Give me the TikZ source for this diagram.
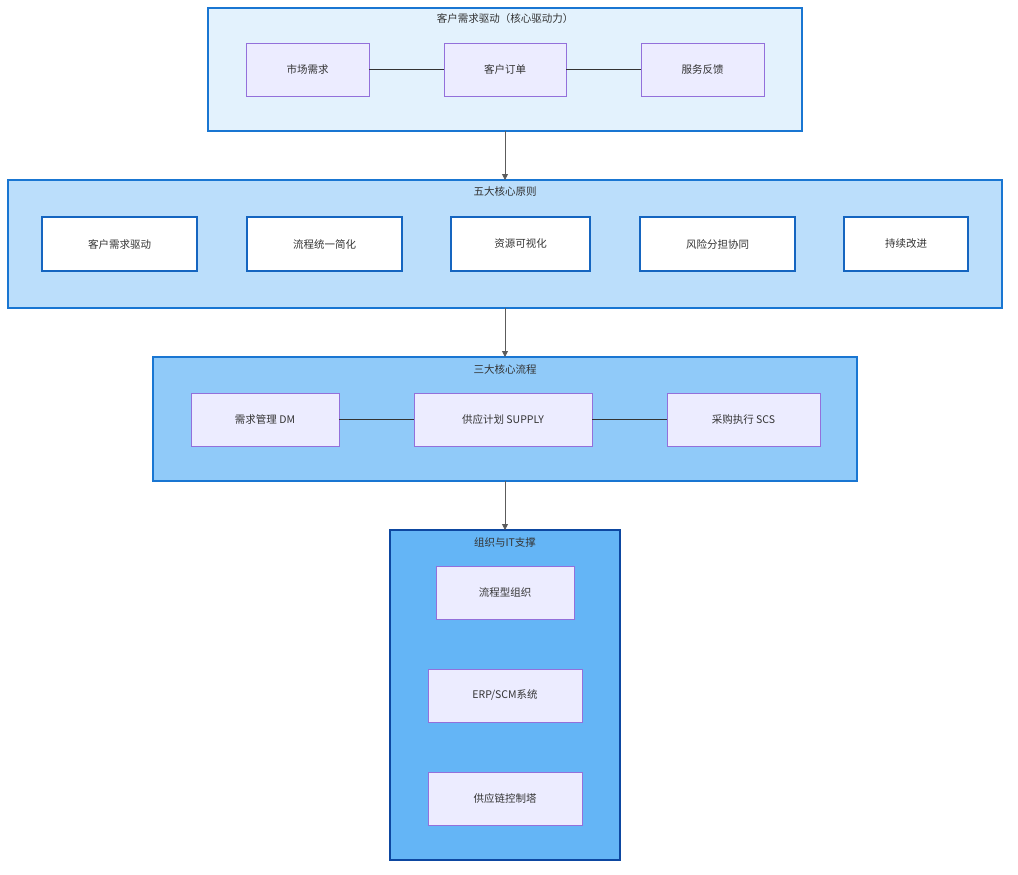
\documentclass[tikz,border=0pt]{standalone}
\usepackage{fontspec}
\setmainfont{Noto Sans CJK SC}
\usetikzlibrary{arrows.meta}
\definecolor{gfillA}{HTML}{E3F2FD}
\definecolor{gfillB}{HTML}{BBDEFB}
\definecolor{gfillC}{HTML}{90CAF9}
\definecolor{gfillD}{HTML}{64B5F6}
\definecolor{gline}{HTML}{1976D2}
\definecolor{glineD}{HTML}{0D47A1}
\definecolor{nfill}{HTML}{ECECFF}
\definecolor{nline}{HTML}{9370DB}
\definecolor{wline}{HTML}{1565C0}
\definecolor{txt}{HTML}{333333}
\newcommand\grouptextstyle{\fontsize{10.5}{12}\selectfont}
\newcommand\nodetextstyle{\fontsize{10.5}{12}\selectfont}
\tikzset{
  group/.style={draw=gline, line width=1.6pt},
  item/.style={draw=nline, fill=nfill, line width=0.7pt},
  principle/.style={draw=wline, fill=white, line width=1.4pt},
  link/.style={draw=txt, line width=0.5pt},
  flow/.style={draw=txt!80, line width=0.8pt, -{Triangle[length=6pt,width=6pt]}},
}
\begin{document}
\begin{tikzpicture}[x=1pt, y=-1pt, every node/.style={text=txt}]
  \useasboundingbox (0,0) rectangle (1018,875);
  % groups
  \draw[group, fill=gfillA] (208,8) rectangle (802,131);
  \node (gA) at (505,19) {\grouptextstyle 客户需求驱动（核心驱动力）};
  \draw[group, fill=gfillB] (8,180) rectangle (1002,308);
  \node (gB) at (505,191) {\grouptextstyle 五大核心原则};
  \draw[group, fill=gfillC] (153,357) rectangle (857,481);
  \node (gC) at (505,369) {\grouptextstyle 三大核心流程};
  \draw[group, draw=glineD, fill=gfillD] (390,530) rectangle (620,860);
  \node (gD) at (505,543) {\grouptextstyle 组织与IT支撑};
  \coordinate (aA) at (505,131); \coordinate (aB) at (505,180);
  \coordinate (bA) at (505,308); \coordinate (bB) at (505,357);
  \coordinate (cA) at (505,481); \coordinate (cB) at (505,530);
  % customer demand
  \draw[item] (246,43) rectangle (369,96);  \node (market) at (307.5,69.5) {\nodetextstyle 市场需求};
  \draw[item] (444,43) rectangle (566,96);  \node (order) at (505,69.5) {\nodetextstyle 客户订单};
  \draw[item] (641,43) rectangle (764,96);  \node (service) at (702.5,69.5) {\nodetextstyle 服务反馈};
  \coordinate (mR) at (369,69.5); \coordinate (oL) at (444,69.5);
  \coordinate (oR) at (566,69.5); \coordinate (sL) at (641,69.5);
  \draw[link] (mR) -- (oL);
  \draw[link] (oR) -- (sL);
  % principles
  \draw[principle] (42,217) rectangle (197,271);  \node (pA) at (119.5,244) {\nodetextstyle 客户需求驱动};
  \draw[principle] (247,217) rectangle (402,271); \node (pB) at (324.5,244) {\nodetextstyle 流程统一简化};
  \draw[principle] (451,217) rectangle (590,271); \node (pC) at (520.5,244) {\nodetextstyle 资源可视化};
  \draw[principle] (640,217) rectangle (795,271); \node (pD) at (717.5,244) {\nodetextstyle 风险分担协同};
  \draw[principle] (844,217) rectangle (968,271); \node (pE) at (906,244) {\nodetextstyle 持续改进};
  % core processes
  \draw[item] (191,393) rectangle (339,446); \node (dm) at (265,419.5) {\nodetextstyle 需求管理 DM};
  \draw[item] (414,393) rectangle (592,446); \node (supply) at (503,419.5) {\nodetextstyle 供应计划 SUPPLY};
  \draw[item] (667,393) rectangle (820,446); \node (scs) at (743.5,419.5) {\nodetextstyle 采购执行 SCS};
  \coordinate (dR) at (339,419.5); \coordinate (uL) at (414,419.5);
  \coordinate (uR) at (592,419.5); \coordinate (cL) at (667,419.5);
  \draw[link] (dR) -- (uL);
  \draw[link] (uR) -- (cL);
  % support
  \draw[item] (436,566) rectangle (574,619); \node (org) at (505,592.5) {\nodetextstyle 流程型组织};
  \draw[item] (428,669) rectangle (582,722); \node (erp) at (505,695.5) {\nodetextstyle ERP/SCM系统};
  \draw[item] (428,772) rectangle (582,825); \node (tower) at (505,798.5) {\nodetextstyle 供应链控制塔};
  % flow between groups
  \draw[flow] (aA) -- (aB);
  \draw[flow] (bA) -- (bB);
  \draw[flow] (cA) -- (cB);
\end{tikzpicture}
\end{document}
